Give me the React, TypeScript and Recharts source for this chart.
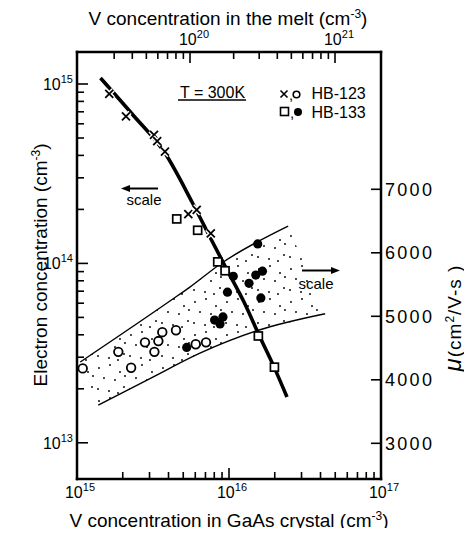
import { ComposedChart, Legend, Scatter, XAxis, YAxis } from "recharts";

// HB-123: V in the crystal (cm^-3) against electron concentration (cm^-3), left scale
const hb123CrystalV = [1.63e15, 2.1e15, 3.21e15, 3.37e15, 3.79e15, 5.4e15, 6.13e15, 7.59e15];
const hb123Electrons = [8.8e14, 6.6e14, 5.2e14, 4.8e14, 4.2e14, 1.88e14, 1.99e14, 1.47e14];

// HB-133: same quantities
const hb133CrystalV = [4.53e15, 6.22e15, 8.43e15, 9.42e15, 1.56e16, 1.99e16];
const hb133Electrons = [1.77e14, 1.53e14, 1.02e14, 9.1e13, 3.94e13, 2.64e13];

// Hall mobility (cm^2/V-s), right scale
const hb123MobilityV = [1.09e15, 1.87e15, 2.27e15, 2.8e15, 3.23e15, 3.43e15, 3.64e15, 4.48e15, 6.04e15, 7.06e15];
const hb123Mobility = [4180, 4440, 4190, 4590, 4440, 4610, 4750, 4780, 4560, 4590];
const hb133MobilityV = [5.27e15, 8.04e15, 8.73e15, 9.13e15, 9.77e15, 1.067e16, 1.354e16, 1.5e16, 1.66e16, 1.62e16, 1.545e16];
const hb133Mobility = [4510, 4940, 4880, 4990, 5380, 5630, 5520, 5650, 5710, 5290, 6140];

// guide curve through the electron concentration points
const curveV = [1.427e15, 2.335e15, 3.79e15, 5.71e15, 7.73e15, 9.56e15, 1.255e16, 1.575e16, 1.977e16, 2.407e16];
const curveElectrons = [1.08e15, 6.72e14, 4.12e14, 2.2e14, 1.333e14, 9.43e13, 6.09e13, 3.99e13, 2.65e13, 1.8e13];

// edges of the mobility band
const bandTopV = [1.05e15, 4.2e15, 5.53e15, 8.73e15, 2.45e16];
const bandTopMobility = [4280, 5260, 5460, 5820, 6420];
const bandBottomV = [1.38e15, 3.02e15, 6.44e15, 1.56e16, 4.29e16];
const bandBottomMobility = [3600, 4020, 4420, 4780, 5040];

// axis decades / ticks
const crystalDecades = [1e15, 1e16, 1e17];
const meltDecades = [1e20, 1e21];
const electronDecades = [1e13, 1e14, 1e15];
const mobilityTicks = [3000, 4000, 5000, 6000, 7000];

const W = 472;
const H = 536;

const withMinors = (decades: number[], lo: number, hi: number) => {
  const out: number[] = [];
  for (const d of [decades[0] / 10, ...decades]) {
    for (let m = 1; m < 10; m++) {
      const v = m * d;
      if (v >= lo * 0.999 && v <= hi * 1.001) out.push(v);
    }
  }
  return out;
};

const crystalTicks = withMinors(crystalDecades, 1e15, 1e17);
const meltTicks = withMinors(meltDecades, 3e19, 1e21);
const electronTicks = withMinors(electronDecades, 1e13, 1e15);

const toPoints = (xs: number[], ys: number[]) => xs.map((x, i) => ({ x, y: ys[i] }));

const hb123N = toPoints(hb123CrystalV, hb123Electrons);
const hb133N = toPoints(hb133CrystalV, hb133Electrons);
const hb123Mu = toPoints(hb123MobilityV, hb123Mobility);
const hb133Mu = toPoints(hb133MobilityV, hb133Mobility);
const curve = toPoints(curveV, curveElectrons);
const bandTop = toPoints(bandTopV, bandTopMobility);
const bandBottom = toPoints(bandBottomV, bandBottomMobility);
const bandOutline = [...bandTop, ...bandBottom.slice().reverse()];

const isDecade = (v: number) => Math.abs(Math.log10(v) - Math.round(Math.log10(v))) < 1e-6;
const exponent = (v: number) => Math.round(Math.log10(v));

const INK = "#000";

function BottomTick({ x, y, payload }: any) {
  const major = isDecade(payload.value);
  return (
    <g>
      <line x1={x} x2={x} y1={y} y2={y - (major ? 11 : 7)} stroke={INK} strokeWidth={1.6} />
      {major && (
        <text x={x + 3} y={y + 19} textAnchor="middle" fontSize={16} fill={INK}>
          10<tspan dy={-7} fontSize={11}>{exponent(payload.value)}</tspan>
        </text>
      )}
    </g>
  );
}

function TopTick({ x, y, payload }: any) {
  const major = isDecade(payload.value);
  return (
    <g>
      <line x1={x} x2={x} y1={y} y2={y + (major ? 11 : 7)} stroke={INK} strokeWidth={1.6} />
      {major && (
        <text x={x + 4} y={y - 7} textAnchor="middle" fontSize={16} fill={INK}>
          10<tspan dy={-7} fontSize={11}>{exponent(payload.value)}</tspan>
        </text>
      )}
    </g>
  );
}

function LeftTick({ x, y, payload }: any) {
  const major = isDecade(payload.value);
  return (
    <g>
      <line x1={x} x2={x + (major ? 11 : 7)} y1={y} y2={y} stroke={INK} strokeWidth={1.6} />
      {major && (
        <text x={x - 4} y={y + 6} textAnchor="end" fontSize={16} fill={INK}>
          10<tspan dy={-7} fontSize={11}>{exponent(payload.value)}</tspan>
        </text>
      )}
    </g>
  );
}

function RightTick({ x, y, payload }: any) {
  return (
    <g>
      <line x1={x} x2={x - 10} y1={y} y2={y} stroke={INK} strokeWidth={1.6} />
      <text x={x + 4} y={y + 6.5} fontSize={18} letterSpacing={2.3} fill={INK}>
        {payload.value}
      </text>
    </g>
  );
}

const Nothing = () => <g />;

function CrossMark({ cx, cy }: any) {
  const s = 4;
  const d = `M${cx - s},${cy - s}L${cx + s},${cy + s}M${cx - s},${cy + s}L${cx + s},${cy - s}`;
  return (
    <g>
      <path d={d} stroke="#fff" strokeWidth={4.5} />
      <path d={d} stroke={INK} strokeWidth={1.8} />
    </g>
  );
}

function SquareMark({ cx, cy }: any) {
  return <rect x={cx - 4} y={cy - 4} width={8} height={8} fill="#fff" stroke={INK} strokeWidth={1.7} />;
}

function OpenDot({ cx, cy }: any) {
  return <circle cx={cx} cy={cy} r={4.3} fill="#fff" stroke={INK} strokeWidth={1.8} />;
}

function FilledDot({ cx, cy }: any) {
  return <circle cx={cx} cy={cy} r={4.6} fill={INK} />;
}

// stipple texture for the band
const STIPPLE = [
  [3, 5], [14, 2], [24, 9], [8, 15], [19, 17], [28, 24], [2, 26], [13, 28], [22, 30], [29, 13],
];

function BandFill(props: any) {
  const pts = (props.points || []).map((p: any) => `${p.x},${p.y}`).join(" ");
  return (
    <g>
      <defs>
        <pattern id="stipple" width={32} height={33} patternUnits="userSpaceOnUse">
          {STIPPLE.map(([x, y], i) => (
            <circle key={i} cx={x} cy={y} r={0.95} fill={INK} />
          ))}
        </pattern>
      </defs>
      <polygon points={pts} fill="url(#stipple)" stroke="none" />
    </g>
  );
}

function SeriesKey() {
  return (
    <svg width={100} height={44} style={{ overflow: "visible" }}>
      <path d="M4.5,9.5L11.5,16.5M4.5,16.5L11.5,9.5" stroke={INK} strokeWidth={1.6} />
      <text x={13} y={19} fontSize={15}>,</text>
      <circle cx={20.5} cy={13.5} r={3.3} fill="#fff" stroke={INK} strokeWidth={1.6} />
      <text x={35.5} y={18} fontSize={16}>HB-123</text>
      <rect x={4.5} y={26.5} width={8} height={8} fill="#fff" stroke={INK} strokeWidth={1.6} />
      <text x={14} y={37} fontSize={15}>,</text>
      <circle cx={22} cy={31} r={4} fill={INK} />
      <text x={35.5} y={37} fontSize={16}>HB-133</text>
    </svg>
  );
}

const axisLine = { stroke: INK, strokeWidth: 2.5, strokeLinecap: "square" as const };

export default function App() {
  return (
    <div
      style={{
        position: "relative",
        width: W,
        height: H,
        margin: -8,
        fontFamily: "'Liberation Sans', Arial, sans-serif",
        background: "#fff",
      }}
    >
      <ComposedChart width={W} height={H} margin={{ top: 0, right: 0, bottom: 0, left: 0 }}>
        <XAxis
          xAxisId="gaas"
          dataKey="x"
          type="number"
          scale="log"
          domain={[1e15, 1e17]}
          allowDataOverflow
          ticks={crystalTicks}
          interval={0}
          height={57}
          tickSize={0}
          tickMargin={0}
          tickLine={false}
          axisLine={axisLine}
          tick={BottomTick}
        />
        <XAxis
          xAxisId="melt"
          dataKey="x"
          orientation="top"
          type="number"
          scale="log"
          domain={[Math.pow(10, 19.2207), Math.pow(10, 21.3172)]}
          allowDataOverflow
          ticks={meltTicks}
          interval={0}
          height={52}
          tickSize={0}
          tickMargin={0}
          tickLine={false}
          axisLine={axisLine}
          tick={TopTick}
        />
        <YAxis
          yAxisId="n"
          dataKey="y"
          type="number"
          scale="log"
          domain={[Math.pow(10, 12.7982), Math.pow(10, 15.1784)]}
          allowDataOverflow
          ticks={electronTicks}
          interval={0}
          width={77}
          tickSize={0}
          tickMargin={0}
          tickLine={false}
          axisLine={axisLine}
          tick={LeftTick}
        />
        <YAxis
          yAxisId="mu"
          orientation="right"
          dataKey="y"
          type="number"
          domain={[2438, 9162]}
          allowDataOverflow
          ticks={mobilityTicks}
          interval={0}
          width={91}
          tickSize={0}
          tickMargin={0}
          tickLine={false}
          axisLine={axisLine}
          tick={RightTick}
        />

        {/* the melt axis only carries a scale; an empty series keeps it drawn */}
        <Scatter data={[]} xAxisId="melt" yAxisId="n" shape={Nothing} isAnimationActive={false} />

        <Scatter
          data={bandOutline}
          xAxisId="gaas"
          yAxisId="mu"
          fill={INK}
          line={BandFill}
          shape={Nothing}
          isAnimationActive={false}
        />
        <Scatter
          data={bandTop}
          xAxisId="gaas"
          yAxisId="mu"
          fill={INK}
          line={{ stroke: INK, strokeWidth: 1.4 }}
          lineJointType="monotoneX"
          shape={Nothing}
          isAnimationActive={false}
        />
        <Scatter
          data={bandBottom}
          xAxisId="gaas"
          yAxisId="mu"
          fill={INK}
          line={{ stroke: INK, strokeWidth: 1.4 }}
          lineJointType="monotoneX"
          shape={Nothing}
          isAnimationActive={false}
        />
        <Scatter
          data={curve}
          xAxisId="gaas"
          yAxisId="n"
          fill={INK}
          line={{ stroke: INK, strokeWidth: 3.6 }}
          lineJointType="monotoneX"
          shape={Nothing}
          isAnimationActive={false}
        />
        <Scatter data={hb123N} xAxisId="gaas" yAxisId="n" fill={INK} shape={CrossMark} isAnimationActive={false} />
        <Scatter data={hb133N} xAxisId="gaas" yAxisId="n" fill={INK} shape={SquareMark} isAnimationActive={false} />
        <Scatter data={hb123Mu} xAxisId="gaas" yAxisId="mu" fill={INK} shape={OpenDot} isAnimationActive={false} />
        <Scatter data={hb133Mu} xAxisId="gaas" yAxisId="mu" fill={INK} shape={FilledDot} isAnimationActive={false} />

        <Legend
          layout="horizontal"
          verticalAlign="middle"
          align="center"
          wrapperStyle={{ left: 276, top: 81, width: 100, height: 44 }}
          content={() => <SeriesKey />}
        />
      </ComposedChart>

      <svg
        width={W}
        height={H}
        style={{ position: "absolute", left: 0, top: 0, pointerEvents: "none" }}
      >
        <g fill={INK} fontSize={19}>
          <text x={228} y={25} textAnchor="middle">
            V concentration in the melt (cm<tspan dy={-7} fontSize={12}>-3</tspan>
            <tspan dy={7}>)</tspan>
          </text>
          <text x={229} y={527} textAnchor="middle">
            V concentration in GaAs crystal (cm<tspan dy={-7} fontSize={12}>-3</tspan>
            <tspan dy={7}>)</tspan>
          </text>
          <text transform="translate(47,265) rotate(-90)" textAnchor="middle">
            Electron concentration (cm<tspan dy={-7} fontSize={12}>-3</tspan>
            <tspan dy={7}>)</tspan>
          </text>
          <text transform="translate(461,318) rotate(-90)" textAnchor="middle" letterSpacing={1}>
            <tspan fontSize={24} fontStyle="italic">μ</tspan>(cm<tspan dy={-7} fontSize={12}>2</tspan>
            <tspan dy={7}>/V-s )</tspan>
          </text>
        </g>

        <text x={180} y={97.5} fontSize={16} fill={INK}>T = 300K</text>
        <line x1={178} x2={246} y1={100} y2={100} stroke={INK} strokeWidth={1.5} />

        <line x1={128} x2={158} y1={188.5} y2={188.5} stroke={INK} strokeWidth={2} />
        <polygon points="121,188.5 130,185 130,192" fill={INK} />
        <text x={144} y={205} fontSize={15} textAnchor="middle" fill={INK}>scale</text>

        <line x1={302} x2={332} y1={270.5} y2={270.5} stroke={INK} strokeWidth={2} />
        <polygon points="340,270.5 331,267 331,274" fill={INK} />
        <text x={316} y={289} fontSize={15} textAnchor="middle" fill={INK}>scale</text>
      </svg>
    </div>
  );
}
